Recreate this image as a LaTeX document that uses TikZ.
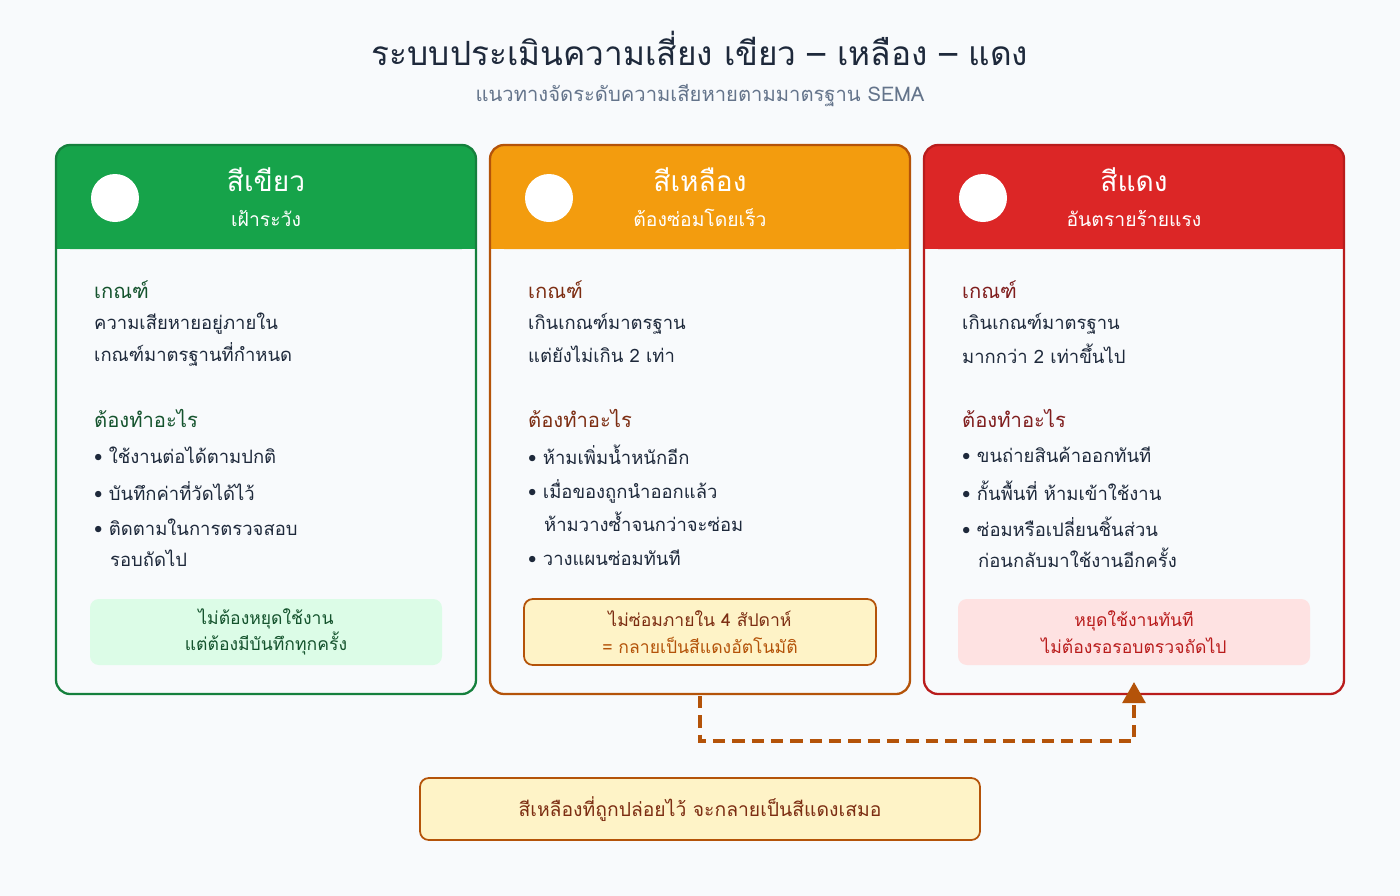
\documentclass[tikz,border=0pt]{standalone}
\usepackage{fontspec}
\setmainfont[Script=Thai]{Loma}
\usetikzlibrary{arrows.meta}
\definecolor{bgc}{HTML}{F8FAFC}
\definecolor{ink}{HTML}{1E293B}
\definecolor{grey}{HTML}{64748B}
\definecolor{gHead}{HTML}{16A34A}
\definecolor{gLine}{HTML}{15803D}
\definecolor{gDark}{HTML}{14532D}
\definecolor{gSoft}{HTML}{DCFCE7}
\definecolor{yHead}{HTML}{F39C0E}
\definecolor{yLine}{HTML}{B45309}
\definecolor{yDark}{HTML}{7C2D12}
\definecolor{ySoft}{HTML}{FEF3C7}
\definecolor{rHead}{HTML}{DC2626}
\definecolor{rLine}{HTML}{B91C1C}
\definecolor{rDark}{HTML}{7F1D1D}
\definecolor{rSoft}{HTML}{FEE2E2}
\tikzset{
  body/.style={anchor=west, font=\fontsize{10.5}{12}\selectfont, text=ink},
  head/.style={anchor=west, font=\fontsize{11.5}{13}\selectfont},
  note/.style={align=center, font=\fontsize{10}{15}\selectfont, rounded corners=5pt,
    minimum width=352*0.02cm, minimum height=66*0.02cm}
}
% card frame: left x, head colour, line colour, title, subtitle, name
\newcommand{\riskcard}[6]{
  \fill[#2, rounded corners=8pt] (#1,145) rectangle ++(420,104);
  \fill[#2] (#1,200) rectangle ++(420,49);
  \draw[#3, line width=1.3pt, rounded corners=8pt] (#1,145) rectangle ++(420,549);
  \fill[white] (#1+59,198) circle (24);
  \node[text=white, font=\fontsize{16}{18}\selectfont] (#6t) at (#1+210,180) {#4};
  \node[text=white, font=\fontsize{11}{13}\selectfont] (#6s) at (#1+210,218) {#5};
}
\begin{document}
\begin{tikzpicture}[x=0.02cm, y=-0.02cm]
\fill[bgc] (0,0) rectangle (1400,896);
\useasboundingbox (0,0) rectangle (1400,896);
\node[text=ink, font=\fontsize{19}{22}\selectfont] (title) at (700,48) {ระบบประเมินความเสี่ยง เขียว – เหลือง – แดง};
\node[text=grey, font=\fontsize{11.5}{14}\selectfont] (subtitle) at (700,96) {แนวทางจัดระดับความเสียหายตามมาตรฐาน SEMA};

\riskcard{56}{gHead}{gLine}{สีเขียว}{เฝ้าระวัง}{green}
\riskcard{490}{yHead}{yLine}{สีเหลือง}{ต้องซ่อมโดยเร็ว}{yellow}
\riskcard{924}{rHead}{rLine}{สีแดง}{อันตรายร้ายแรง}{red}

% green card
\node[head, text=gDark] at (88,290) {เกณฑ์};
\node[body] at (88,324) {ความเสียหายอยู่ภายใน};
\node[body] at (88,354) {เกณฑ์มาตรฐานที่กำหนด};
\node[head, text=gDark] at (88,418) {ต้องทำอะไร};
\node[body] at (88,455) {• ใช้งานต่อได้ตามปกติ};
\node[body] at (88,491) {• บันทึกค่าที่วัดได้ไว้};
\node[body] at (88,527) {• ติดตามในการตรวจสอบ};
\node[body] at (104,558) {รอบถัดไป};
\node[note, fill=gSoft, text=gDark] (gnote) at (266,632) {ไม่ต้องหยุดใช้งาน\\แต่ต้องมีบันทึกทุกครั้ง};

% yellow card
\node[head, text=yDark] at (522,290) {เกณฑ์};
\node[body] at (522,324) {เกินเกณฑ์มาตรฐาน};
\node[body] at (522,354) {แต่ยังไม่เกิน 2 เท่า};
\node[head, text=yDark] at (522,418) {ต้องทำอะไร};
\node[body] at (522,455) {• ห้ามเพิ่มน้ำหนักอีก};
\node[body] at (522,491) {• เมื่อของถูกนำออกแล้ว};
\node[body] at (538,522) {ห้ามวางซ้ำจนกว่าจะซ่อม};
\node[body] at (522,558) {• วางแผนซ่อมทันที};
\node[note, fill=ySoft, draw=yLine, line width=1pt, text=yDark] (ynote) at (700,632) {ไม่ซ่อมภายใน 4 สัปดาห์\\\textcolor{yLine}{= กลายเป็นสีแดงอัตโนมัติ}};

% red card
\node[head, text=rDark] at (956,290) {เกณฑ์};
\node[body] at (956,324) {เกินเกณฑ์มาตรฐาน};
\node[body] at (956,354) {มากกว่า 2 เท่าขึ้นไป};
\node[head, text=rDark] at (956,418) {ต้องทำอะไร};
\node[body] at (956,455) {• ขนถ่ายสินค้าออกทันที};
\node[body] at (956,491) {• กั้นพื้นที่ ห้ามเข้าใช้งาน};
\node[body] at (956,527) {• ซ่อมหรือเปลี่ยนชิ้นส่วน};
\node[body] at (972,558) {ก่อนกลับมาใช้งานอีกครั้ง};
\node[note, fill=rSoft, text=rLine] (rnote) at (1134,632) {หยุดใช้งานทันที\\ไม่ต้องรอรอบตรวจถัดไป};

% escalation
\coordinate (from) at (700,696);
\coordinate (to) at (1134,682);
\draw[yLine, line width=2pt, dash pattern=on 7pt off 4pt, -{Triangle[length=12pt,width=13pt]}]
  (from) -- (700,741) -- (1134,741) -- (to);
\node[fill=ySoft, draw=yLine, line width=1pt, rounded corners=5pt, text=yDark,
  minimum width=560*0.02cm, minimum height=62*0.02cm, font=\fontsize{11}{13}\selectfont]
  (rule) at (700,809) {สีเหลืองที่ถูกปล่อยไว้ จะกลายเป็นสีแดงเสมอ};
\end{tikzpicture}
\end{document}
